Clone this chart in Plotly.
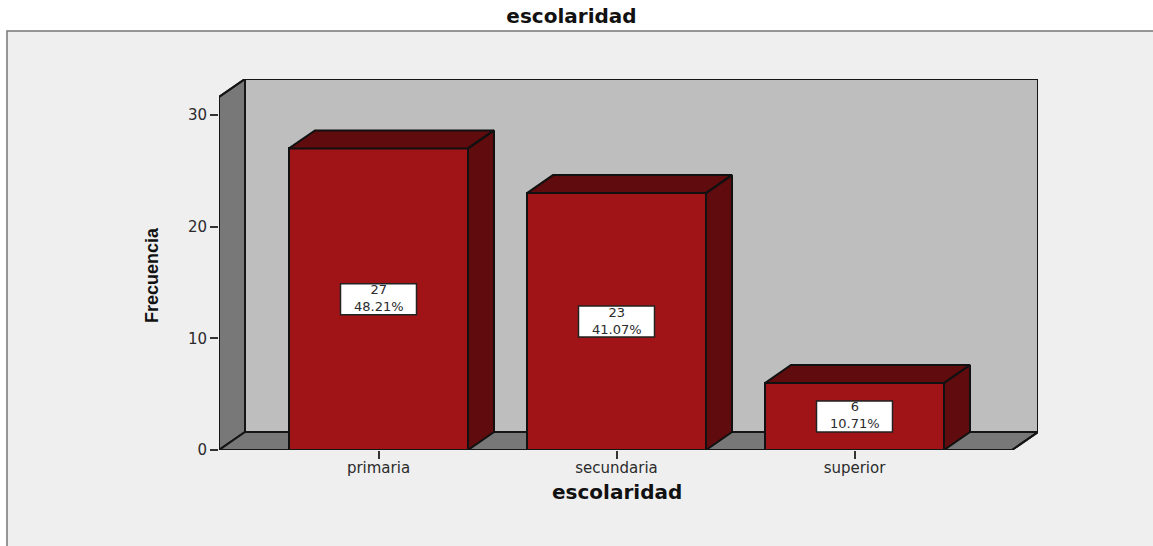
import plotly.graph_objects as go

categories = ["primaria", "secundaria", "superior"]
frequencies = [27, 23, 6]
percent_labels = ["48.21%", "41.07%", "10.71%"]
y_ticks = [0, 10, 20, 30]

FRONT, DARK, WALL, BACK, PANEL = "#a01417", "#600b0d", "#787878", "#bebebe", "#efefef"
INK = "#2b2b2b"
TXT = "DejaVu Sans"

W, H = 1153, 546
L, R, T, B = 219, 1038, 79, 450       # plot box in page pixels
PX_PER_CAT = 238.0
PX_PER_UNIT = 11.17
x_lo = -(378.5 - L) / PX_PER_CAT
x_hi = (R - 378.5) / PX_PER_CAT
y_hi = (B - T) / PX_PER_UNIT
dx = 26 / PX_PER_CAT                  # oblique depth
dy = 18 / PX_PER_UNIT
bar_w = 179 / PX_PER_CAT
xs = list(range(len(categories)))


def paper_x(px):
    return (px - L) / (R - L)


def paper_y(py):
    return (B - py) / (B - T)


fig = go.Figure()

# front faces
fig.add_trace(go.Bar(x=xs, y=frequencies, width=bar_w,
                     marker=dict(color=FRONT, line=dict(color="#111111", width=2)),
                     hoverinfo="skip", showlegend=False))

# top and side faces, derived from the values
px, py = [], []
for x, v in zip(xs, frequencies):
    a, b = x - bar_w / 2, x + bar_w / 2
    px += [a, a + dx, b + dx, b, a, None, b, b + dx, b + dx, b, b, None]
    py += [v, v + dy, v + dy, v, v, None, v, v + dy, dy, 0, v, None]
fig.add_trace(go.Scatter(x=px, y=py, mode="lines", fill="toself", fillcolor=DARK,
                         line=dict(color="#111111", width=2), cliponaxis=False,
                         hoverinfo="skip", showlegend=False))

# outer silhouette of the walls
x_front_end = x_hi - dx
fig.add_trace(go.Scatter(
    x=[x_front_end, x_lo, x_lo, x_lo + dx, x_hi, x_hi, x_front_end],
    y=[0, 0, y_hi - dy, y_hi, y_hi, dy, 0],
    mode="lines", line=dict(color="#151515", width=2), cliponaxis=False,
    hoverinfo="skip", showlegend=False))

shapes = [
    # panel behind the chart
    dict(type="rect", xref="paper", yref="paper", layer="below",
         x0=paper_x(7), x1=paper_x(W + 20), y0=paper_y(H + 20), y1=paper_y(31),
         fillcolor=PANEL, line=dict(color="#777777", width=1.5)),
    # back wall, side wall, floor
    dict(type="rect", layer="below", x0=x_lo + dx, x1=x_hi, y0=dy, y1=y_hi,
         fillcolor=BACK, line=dict(color="#151515", width=2)),
    dict(type="path", layer="below",
         path=f"M{x_lo},0 L{x_lo+dx},{dy} L{x_lo+dx},{y_hi} L{x_lo},{y_hi-dy} Z",
         fillcolor=WALL, line=dict(color="#151515", width=2)),
    dict(type="path", layer="below",
         path=f"M{x_lo},0 L{x_front_end},0 L{x_hi},{dy} L{x_lo+dx},{dy} Z",
         fillcolor=WALL, line=dict(color="#151515", width=2)),
]

annotations = [
    dict(xref="paper", yref="paper", x=paper_x(152), y=paper_y(275),
         text="<b>Frecuencia</b>", textangle=-90, showarrow=False,
         xanchor="center", yanchor="middle",
         font=dict(family="Liberation Sans", size=18, color="#111111")),
    dict(xref="paper", yref="paper", x=paper_x(617), y=paper_y(492),
         text="<b>escolaridad</b>", showarrow=False,
         xanchor="center", yanchor="middle",
         font=dict(family=TXT, size=20, color="#111111")),
]
for x, v, p in zip(xs, frequencies, percent_labels):
    shapes.append(dict(type="rect", layer="above", xref="x", yref="y",
                       xsizemode="pixel", ysizemode="pixel",
                       xanchor=x, yanchor=v / 2, x0=-38, x1=38, y0=-15.5, y1=15.5,
                       fillcolor="white", line=dict(color="#222222", width=1.5)))
    annotations.append(dict(x=x, y=v / 2, text=f"{v}<br>{p}", showarrow=False, yshift=1,
                            font=dict(family=TXT, size=13, color=INK)))

fig.update_layout(
    width=W, height=H,
    autosize=False,
    margin=dict(l=L, r=W - R, t=T, b=H - B, pad=0),
    paper_bgcolor="white", plot_bgcolor="rgba(0,0,0,0)",
    title=dict(text="<b>escolaridad</b>", x=571.5 / W, xanchor="center",
               y=1 - 16 / H, yanchor="middle",
               font=dict(family=TXT, size=20, color="#111111")),
    xaxis=dict(range=[x_lo, x_hi], tickmode="array", tickvals=xs, ticktext=categories,
               ticks="outside", ticklen=8, tickwidth=1.5, tickcolor="#333333",
               showgrid=False, zeroline=False, showline=False,
               ticklabelstandoff=-4,
               tickfont=dict(family=TXT, size=15, color=INK)),
    yaxis=dict(range=[0, y_hi], tickmode="array", tickvals=y_ticks,
               ticks="outside", ticklen=8, tickwidth=1.5, tickcolor="#333333",
               showgrid=False, zeroline=False, showline=False,
               tickfont=dict(family=TXT, size=15, color=INK)),
    shapes=shapes, annotations=annotations, showlegend=False, bargap=0,
)

fig.write_html("out.html", config={"displayModeBar": False},
               post_script="document.body.style.margin='0';")
